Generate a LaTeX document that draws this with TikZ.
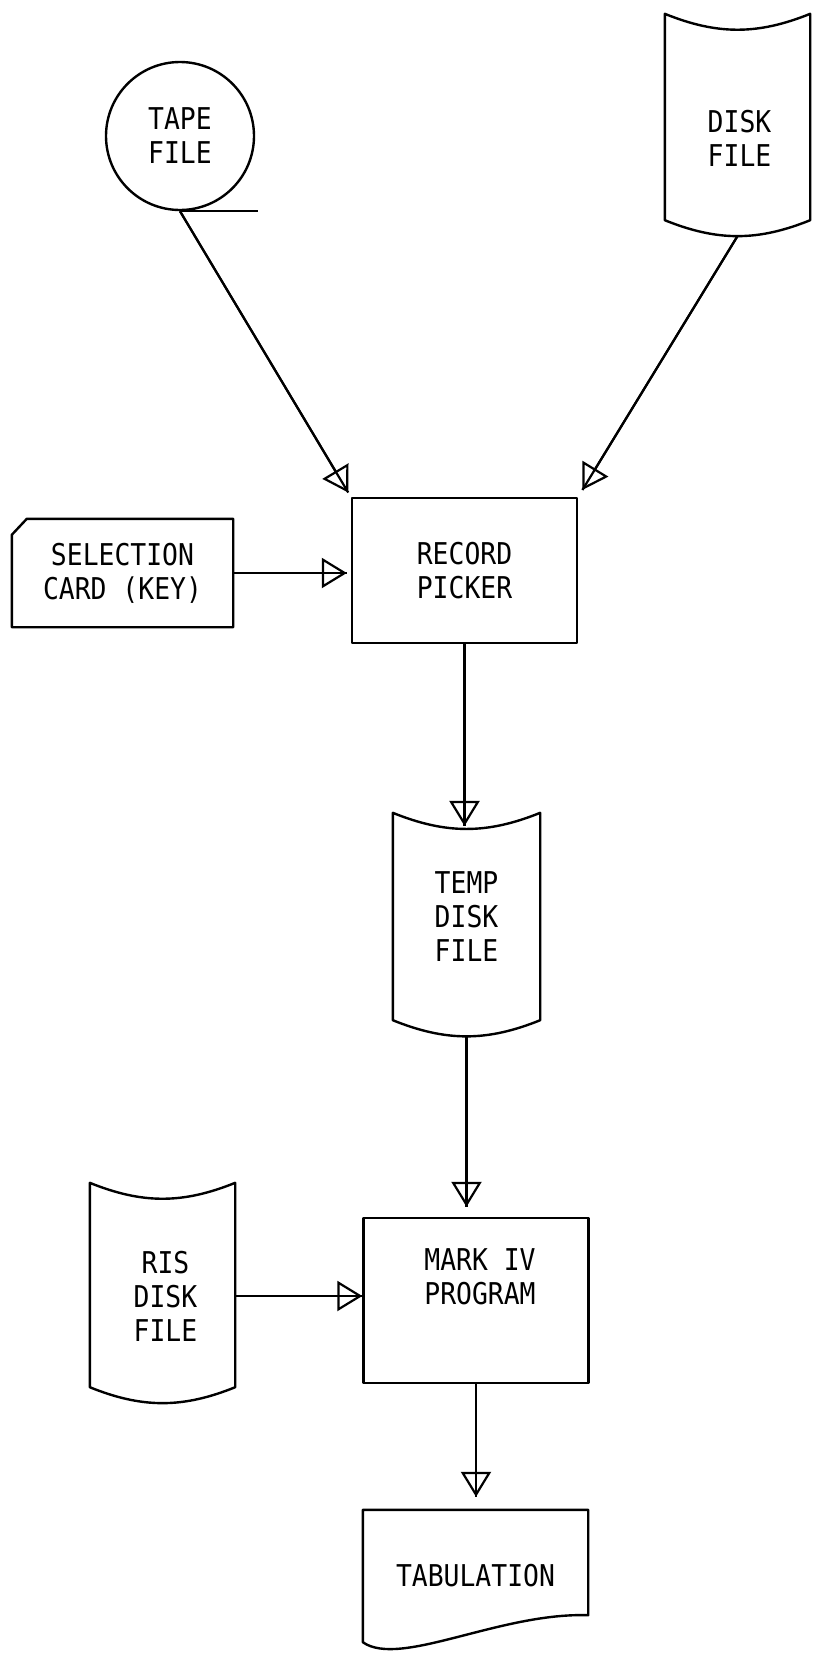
\documentclass[tikz,border=0pt]{standalone}
\usepackage{fontspec}
\newfontfamily\typefont[FakeStretch=0.88]{DejaVu Sans Mono}
\usetikzlibrary{arrows.meta,calc}

\tikzset{
  outline/.style={line width=2.4pt, line join=round},
  txt/.style={font=\typefont\fontsize{30}{34}\selectfont, align=center, inner sep=0pt},
  tapebox/.style={txt, circle, draw, outline, minimum size=148pt},
  filebox/.style={txt, minimum width=145pt},
  procbox/.style={txt, draw, outline, minimum width=225pt},
  cardbox/.style={txt, minimum width=221pt, minimum height=108pt},
  docbox/.style={txt, minimum width=225pt, minimum height=132pt},
  flow/.style={line width=2.2pt, -{Triangle[open, length=25pt, width=30pt]}, postaction={draw, -}}
}

\begin{document}
\begin{tikzpicture}[x=1pt, y=-1pt]
\useasboundingbox (0,0) rectangle (817,1658);

% inputs
\node[tapebox] (tape) at (180,136) {TAPE\\FILE};
\draw[outline] (tape.south) -- ++(78,0);

\node[filebox, minimum height=206pt] (disk) at (737.5,117) {};
\node[txt] (disk-txt) at ($(disk)+(2,21)$) {DISK\\FILE};
\draw[outline] (disk.north west) to[bend right=22] (disk.north east) -- (disk.south east)
   to[bend left=22] node[coordinate, midway] (disk-b) {} (disk.south west) -- cycle;

\node[cardbox] (card) at (122.5,573) {SELECTION\\CARD (KEY)};
\draw[outline] (card.south west) -- ($(card.north west)+(0,16)$) -- ($(card.north west)+(15,0)$)
   -- (card.north east) -- (card.south east) -- cycle;

\node[procbox, minimum height=145pt] (picker) at (464.5,570.5) {RECORD\\PICKER};

% temp file
\node[filebox, minimum width=147pt, minimum height=207pt] (temp) at (466.5,916.5) {TEMP\\DISK\\FILE};
\draw[outline] (temp.north west) to[bend right=22] node[coordinate, midway] (temp-t) {} (temp.north east)
   -- (temp.south east) to[bend left=22] node[coordinate, midway] (temp-b) {} (temp.south west) -- cycle;

% second run
\node[filebox, minimum height=204pt] (ris) at (162.5,1285) {};
\node[txt] (ris-txt) at ($(ris)+(3,11)$) {RIS\\DISK\\FILE};
\draw[outline] (ris.north west) to[bend right=22] (ris.north east) -- (ris.south east)
   to[bend left=22] (ris.south west) -- cycle;

\node[procbox, minimum height=165pt] (mark) at (476,1300.5) {};
\node[txt] (mark-txt) at ($(mark)+(4,-24)$) {MARK IV\\PROGRAM};

\node[docbox] (tab) at (475.5,1576) {TABULATION};
\draw[outline] (tab.south west) -- (tab.north west) -- (tab.north east) -- ($(tab.south east)+(0,-27)$)
   .. controls ($(tab.south west)+(137,-30)$) and ($(tab.south west)+(37,26)$) .. (tab.south west) -- cycle;

% connectors
\draw[flow, shorten >=5pt] (tape.south) -- (picker.north west);
\draw[flow, shorten >=8pt] (disk-b) -- (picker.north east);
\draw[flow, shorten >=4pt] (card.east) -- (card.east -| picker.west);
\draw[flow, shorten >=3pt] (picker.south) -- (picker.south |- temp-t);
\draw[flow, shorten >=10pt] (temp-b) -- (temp-b |- mark.north);
\draw[flow] (ris.east |- ris-txt) -- (mark.west |- ris-txt);
\draw[flow, shorten >=13pt] (mark.south) -- (mark.south |- tab.north);

\end{tikzpicture}
\end{document}
